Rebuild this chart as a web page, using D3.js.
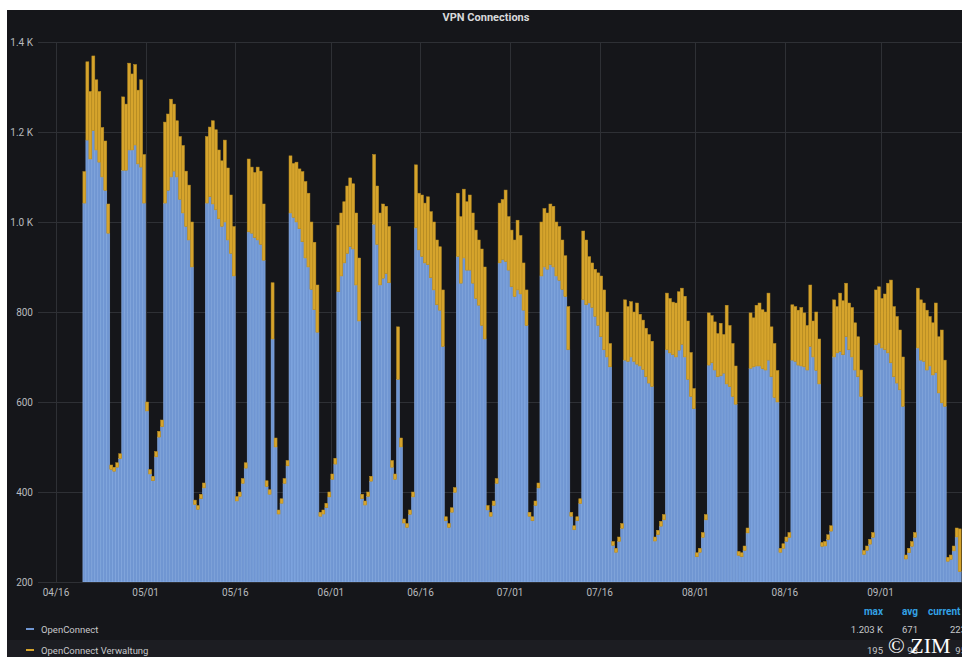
<!DOCTYPE html>
<html>
<head>
<meta charset="utf-8">
<script src="https://cdn.jsdelivr.net/npm/d3@7"></script>
<style>
html, body { margin: 0; padding: 0; background: #fff; }
svg { display: block; font-family: Roboto, "Noto Sans", sans-serif; }
</style>
</head>
<body>
<svg id="chart" width="962" height="657"></svg>
<script>
// samples every 12h, first one Mon 2020-04-20 12:00 (UTC)
let startTime = Date.UTC(2020, 3, 20, 12)
let stepMs = 12 * 3600 * 1000

// one line per week: Mon AM, Mon PM, ... Sun AM, Sun PM
let openConnect = [
  1042,1182,1140,1203,1160,1133,1100,1070,975,450,446,455,474,
  1115,1115,1160,1160,1171,1129,1122,1042,580,440,425,478,522,545,
  1042,1070,1100,1113,1100,1050,1020,990,960,900,372,361,385,409,
  1042,1056,1040,1027,1007,990,1000,960,930,880,380,390,419,453,
  978,975,965,960,950,915,412,395,740,500,351,375,419,458,
  1020,1010,1000,985,956,920,900,850,805,755,346,351,365,389,
  428,462,845,880,909,930,945,940,860,780,385,371,390,424,
  995,950,860,875,885,865,455,428,650,500,331,321,350,389,
  987,938,923,909,905,876,849,816,804,723,336,321,355,399,
  923,864,920,893,893,864,830,815,770,740,360,346,370,419,
  909,916,912,893,856,834,849,840,804,770,346,336,370,409,
  880,900,895,905,900,880,870,850,834,716,346,316,336,374,
  827,816,820,810,790,770,745,716,700,678,281,266,290,319,
  693,690,700,690,684,680,672,656,642,634,291,305,324,338,
  716,709,705,700,715,728,700,650,612,585,256,266,299,338,
  682,687,671,656,658,664,640,634,612,595,259,256,270,309,
  675,678,680,680,674,671,693,656,610,600,266,275,290,299,
  693,690,682,680,678,671,723,700,670,640,279,280,294,313,
  700,709,712,705,745,716,700,671,656,612,261,270,284,299,
  727,731,720,716,709,687,656,642,627,590,251,265,279,299,
  720,693,690,671,680,660,665,620,598,590,246,250,269,300,
  223
]

let verwaltung = [
  70,174,150,166,156,157,110,110,65,10,9,10,11,
  163,147,193,169,179,164,194,108,20,10,10,12,13,15,
  180,170,173,149,125,140,150,123,122,100,10,9,10,11,
  148,155,185,178,153,146,182,160,130,110,10,10,11,12,
  162,147,145,162,163,125,13,10,125,20,9,10,11,12,
  127,120,133,133,156,170,164,150,150,105,9,9,10,11,
  12,13,148,140,136,150,153,145,160,140,10,9,10,11,
  155,130,160,165,150,125,15,12,117,20,9,9,10,11,
  140,126,137,133,151,147,151,144,141,126,9,9,10,11,
  141,148,153,152,167,156,152,145,170,160,10,9,10,11,
  133,134,159,119,126,126,155,130,105,79,9,9,10,11,
  120,130,125,135,135,120,120,110,91,96,9,9,9,11,
  153,144,103,99,105,117,135,133,100,52,9,9,10,11,
  134,122,123,110,136,115,110,108,108,101,9,10,11,12,
  126,121,117,120,130,125,135,130,98,45,9,9,11,12,
  116,105,107,96,117,86,175,136,118,85,9,9,10,11,
  123,109,135,140,131,129,149,111,120,70,9,10,10,11,
  123,122,122,130,120,99,137,80,130,100,9,10,11,12,
  127,103,130,120,119,104,110,105,89,59,9,10,11,11,
  122,125,110,124,155,184,156,148,133,110,9,10,11,11,
  133,134,130,133,110,116,155,125,162,103,9,10,11,20,
  95
]

let yTicks = [200, 400, 600, 800, 1000, 1200, 1400]
let xTicks = ["2020-04-16", "2020-05-01", "2020-05-16", "2020-06-01", "2020-06-16",
  "2020-07-01", "2020-07-16", "2020-08-01", "2020-08-16", "2020-09-01"]

let seriesNames = ["OpenConnect", "OpenConnect Verwaltung"]
let seriesColors = ["#7096d2", "#d6a42c"]
let seriesStroke = ["#8fb6ee", "#b98d22"]
let statHeads = ["max", "avg", "current"]
let statMax = ["1.203 K", "195"]
let statAvg = ["671", "98"]
let statCurrent = ["223", "95"]

let svg = d3.select("#chart")

// panel
svg.append("rect").attr("x", 7).attr("y", 10).attr("width", 955).attr("height", 647).attr("fill", "#15161a")

let plotLeft = 38
let plotRight = 962
let x = d3.scaleUtc()
  .domain([new Date(Date.UTC(2020, 3, 16)), new Date(Date.UTC(2020, 8, 1))])
  .range([56, 880.5])
let y = d3.scaleLinear().domain([200, 1400]).range([582, 42])

svg.append("text")
  .attr("x", 486).attr("y", 21)
  .attr("text-anchor", "middle")
  .attr("font-size", 11).attr("font-weight", "bold")
  .attr("fill", "#d8d9da")
  .text("VPN Connections")

// grid
let grid = svg.append("g")
grid.selectAll("line.h").data(yTicks).enter().append("line")
  .attr("x1", plotLeft).attr("x2", plotRight)
  .attr("y1", d => y(d) + 0.5).attr("y2", d => y(d) + 0.5)
  .attr("stroke", "#2e3035").attr("stroke-width", 1)
grid.selectAll("line.v").data(xTicks).enter().append("line")
  .attr("x1", d => Math.round(x(new Date(d + "T00:00:00Z"))) + 0.5)
  .attr("x2", d => Math.round(x(new Date(d + "T00:00:00Z"))) + 0.5)
  .attr("y1", y(1400)).attr("y2", y(200))
  .attr("stroke", "#2e3035").attr("stroke-width", 1)

// stacked bars
let rows = openConnect.map((v, i) => ({
  t: new Date(startTime + i * stepMs),
  blue: v,
  yellow: verwaltung[i]
}))
let stack = d3.stack().keys(["blue", "yellow"])
let layers = stack(rows)

svg.append("clipPath").attr("id", "plotClip")
  .append("rect").attr("x", plotLeft).attr("y", y(1400)).attr("width", plotRight - plotLeft).attr("height", y(200) - y(1400))

let bars = svg.append("g").attr("clip-path", "url(#plotClip)")
layers.forEach((layer, k) => {
  bars.append("g").selectAll("rect").data(layer).enter().append("rect")
    .attr("x", d => x(d.data.t))
    .attr("width", d => x(new Date(d.data.t.getTime() + stepMs)) - x(d.data.t))
    .attr("y", d => y(d[1]))
    .attr("height", d => y(Math.max(d[0], 200)) - y(d[1]))
    .attr("fill", seriesColors[k])
    .attr("stroke", seriesStroke[k])
    .attr("stroke-width", 0.5)
})

// axes labels
svg.append("g").selectAll("text").data(yTicks).enter().append("text")
  .attr("x", 33).attr("y", d => y(d))
  .attr("dy", "0.35em")
  .attr("text-anchor", "end")
  .attr("font-size", 10)
  .attr("fill", "#b8bbbf")
  .text(d => d >= 1000 ? (d / 1000).toFixed(1) + " K" : d)

svg.append("g").selectAll("text").data(xTicks).enter().append("text")
  .attr("x", d => x(new Date(d + "T00:00:00Z")))
  .attr("y", 596)
  .attr("text-anchor", "middle")
  .attr("font-size", 10)
  .attr("fill", "#b8bbbf")
  .text(d => d.slice(5, 7) + "/" + d.slice(8, 10))

// legend
svg.append("rect").attr("x", 7).attr("y", 640).attr("width", 955).attr("height", 17).attr("fill", "#1c1d22")

let legendY = [629, 650]
seriesNames.forEach((name, i) => {
  svg.append("line")
    .attr("x1", 26).attr("x2", 34)
    .attr("y1", legendY[i]).attr("y2", legendY[i])
    .attr("stroke", seriesColors[i]).attr("stroke-width", 2)
  svg.append("text")
    .attr("x", 41).attr("y", legendY[i] + 3.5)
    .attr("font-size", 9.5)
    .attr("fill", "#c7c8ca")
    .text(name)
  svg.append("text")
    .attr("x", 883).attr("y", legendY[i] + 3.5)
    .attr("text-anchor", "end").attr("font-size", 9.5).attr("fill", "#c7c8ca")
    .text(statMax[i])
  svg.append("text")
    .attr("x", 918).attr("y", legendY[i] + 3.5)
    .attr("text-anchor", "end").attr("font-size", 9.5).attr("fill", "#c7c8ca")
    .text(statAvg[i])
  svg.append("text")
    .attr("x", 966).attr("y", legendY[i] + 3.5)
    .attr("text-anchor", "end").attr("font-size", 9.5).attr("fill", "#c7c8ca")
    .text(statCurrent[i])
})

let headX = [883, 918, 928]
let headAnchor = ["end", "end", "start"]
statHeads.forEach((h, i) => {
  svg.append("text")
    .attr("x", headX[i]).attr("y", 615)
    .attr("text-anchor", headAnchor[i])
    .attr("font-size", 10).attr("font-weight", "bold")
    .attr("fill", "#33a2e5")
    .text(h)
})

// watermark
svg.append("text")
  .attr("x", 888).attr("y", 653)
  .attr("font-family", "'Liberation Serif', 'DejaVu Serif', serif")
  .attr("font-size", 22)
  .attr("fill", "#ffffff")
  .text("© ZIM")
</script>
</body>
</html>
